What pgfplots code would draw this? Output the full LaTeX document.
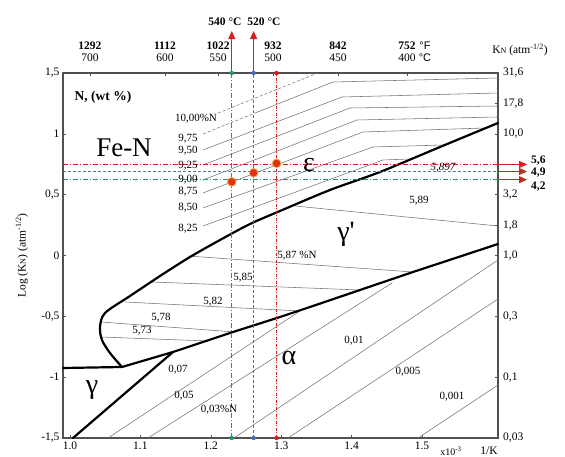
\documentclass[border=0pt]{standalone}
\usepackage{fontspec}
\setmainfont{Liberation Serif}
\newfontfamily\sansf{Liberation Sans}
\newfontfamily\serifraw{Liberation Serif}
\usepackage{pgfplots}
\pgfplotsset{compat=1.18}
\usetikzlibrary{arrows.meta}
\definecolor{cgreen}{RGB}{30,150,115}
\definecolor{cblue}{RGB}{70,110,185}
\definecolor{cred}{RGB}{215,30,30}
\definecolor{cdot}{RGB}{225,48,20}
\definecolor{chalo}{RGB}{245,165,60}
\definecolor{thinc}{RGB}{115,115,115}
\definecolor{framec}{RGB}{80,80,80}
\newcommand{\fs}[1]{\fontsize{#1}{#1}\selectfont}
\begin{document}
\begin{tikzpicture}[
  thinl/.style={thinc, line width=0.55pt},
  thick/.style={black, line width=2.2pt, line join=round, line cap=round},
  lab/.style={font=\fs{11}, inner sep=0pt},
  big/.style={font=\fs{28}, inner sep=0pt},
  arr/.style={cred, line width=0.9pt, -{Triangle[width=7pt,length=8pt]}}
]
\begin{axis}[
  name=ax, at={(0,0)}, anchor=south west,
  width=435pt, height=365pt, scale only axis,
  xmin=0.99006, xmax=1.60795, ymin=-1.5, ymax=1.5,
  clip=false,
  axis line style={framec, line width=1.1pt},
  xtick={1.0,1.1,1.2,1.3,1.4,1.5},
  xticklabels={1.0,1.1,1.2,1.3,1.4,1.5},
  ytick={-1.5,-1,-0.5,0,0.5,1,1.5},
  yticklabels={{-1,5},{-1},{-0,5},{0},{0,5},{1},{1,5}},
  xtick pos=bottom, ytick pos=left,
  tick align=inside, major tick length=3pt,
  tick style={framec, line width=0.6pt},
  ticklabel style={font=\fs{11.5}},
]
% ---------- epsilon iso-lines ----------
\addplot[thinl, dash pattern=on 3pt off 2pt] coordinates {(1.21023,1.1712) (1.35227,1.5)};
\addplot[thinl, dash pattern=on 3pt off 2pt] coordinates {(1.18892,0.9986) (1.26278,1.1712)};
\addplot[thinl] coordinates {(1.26278,1.1712) (1.37358,1.4260) (1.60795,1.4589)};
\addplot[thinl] coordinates {(1.18892,0.8671) (1.38636,1.3027) (1.60795,1.3356)};
\addplot[thinl] coordinates {(1.18892,0.7438) (1.39773,1.2123) (1.60795,1.2288)};
\addplot[thinl] coordinates {(1.18892,0.6205) (1.40767,1.1137) (1.60795,1.1384)};
\addplot[thinl] coordinates {(1.18892,0.5137) (1.41619,1.0151) (1.58949,1.0479)};
\addplot[thinl] coordinates {(1.18892,0.3904) (1.43040,0.8918) (1.53125,0.9082)};
\addplot[thinl] coordinates {(1.18892,0.2425) (1.44460,0.7849) (1.48153,0.7932)};
% ---------- gamma' iso-lines ----------
\addplot[thinl] coordinates {(1.31960,0.4068) (1.60795,0.2425)};
\addplot[thinl] coordinates {(1.16761,-0.0041) (1.48722,-0.1356)};
\addplot[thinl] coordinates {(1.11648,-0.2178) (1.41193,-0.2836)};
\addplot[thinl] coordinates {(1.07813,-0.3822) (1.32670,-0.4562)};
\addplot[thinl] coordinates {(1.04403,-0.5466) (1.23438,-0.6288)};
\addplot[thinl] coordinates {(1.04403,-0.6699) (1.19602,-0.7027)};
% ---------- alpha iso-lines ----------
\addplot[thinl] coordinates {(1.49432,-1.5) (1.60795,-1.0644)};
\addplot[thinl] coordinates {(1.30966,-1.5) (1.60795,-0.3575)};
\addplot[thinl] coordinates {(1.23295,-1.5) (1.60795,-0.0370)};
\addplot[thinl] coordinates {(1.11080,-1.5) (1.45739,-0.2260)};
\addplot[thinl] coordinates {(1.05398,-1.5) (1.33097,-0.4397)};
% ---------- phase boundaries ----------
\addplot[thick, smooth, tension=0.5] coordinates {
 (1.60795,1.0890) (1.52557,0.8918) (1.44034,0.6863) (1.36932,0.5384)
 (1.29830,0.3658) (1.25568,0.2589) (1.21307,0.1274) (1.17045,-0.0123)
 (1.12784,-0.1685) (1.08523,-0.3329) (1.04972,-0.4726) (1.04261,-0.5877)
 (1.04545,-0.6945) (1.05682,-0.8014) (1.07386,-0.9164)};
\addplot[thick] coordinates {(0.99006,-0.9247) (1.07386,-0.9164) (1.14631,-0.7932)
 (1.23153,-0.6288) (1.29403,-0.5137) (1.34091,-0.4233) (1.48722,-0.1356) (1.60795,0.0945)};
\addplot[thick] coordinates {(1.00426,-1.5) (1.14631,-0.7932)};
% ---------- guide lines ----------
\addplot[cgreen, line width=0.7pt, dash pattern=on 5pt off 2pt on 1pt off 2pt] coordinates {(1.22978,-1.5) (1.22978,1.5)};
\addplot[cblue, line width=0.7pt, dash pattern=on 3pt off 2pt] coordinates {(1.26079,-1.5) (1.26079,1.5)};
\addplot[cred, line width=0.7pt, dash pattern=on 3pt off 1.5pt on 1pt off 1.5pt] coordinates {(1.29341,-1.5) (1.29341,1.5)};
\addplot[cred, line width=0.7pt, dash pattern=on 5pt off 2pt on 1pt off 2pt] coordinates {(0.99006,0.7482) (1.60795,0.7482)};
\addplot[cblue!70!gray, line width=0.7pt, dash pattern=on 3pt off 2pt] coordinates {(0.99006,0.6902) (1.60795,0.6902)};
\addplot[cgreen, line width=0.7pt, dash pattern=on 5pt off 2pt on 1pt off 2pt] coordinates {(0.99006,0.6232) (1.60795,0.6232)};
\addplot[arr] coordinates {(1.60795,0.7482) (1.64915,0.7482)};
\addplot[arr] coordinates {(1.60795,0.6902) (1.64915,0.6902)};
\addplot[arr] coordinates {(1.60795,0.6232) (1.64915,0.6232)};
\addplot[arr] coordinates {(1.22978,1.5) (1.22978,1.845)};
\addplot[arr] coordinates {(1.26079,1.5) (1.26079,1.845)};
\addplot[only marks, mark=*, mark size=2pt, cgreen] coordinates {(1.22978,1.5) (1.22978,-1.5)};
\addplot[only marks, mark=*, mark size=2pt, cblue] coordinates {(1.26079,1.5) (1.26079,-1.5)};
\addplot[only marks, mark=*, mark size=2pt, cred] coordinates {(1.29341,1.5) (1.29341,-1.5)};
\addplot[only marks, mark=*, mark size=4.3pt, mark options={fill=cdot, draw=chalo, line width=0.8pt}] coordinates {(1.22978,0.605) (1.26079,0.680) (1.29341,0.757)};
% ---------- right axis ----------
\foreach \v/\t in {1.5/{31,6}, 1.25/{17,8}, 1/{10,0}, 0.5/{3,2}, 0.25/{1,8}, 0/{1,0}, -0.5/{0,3}, -1/{0,1}, -1.5/{0,03}} {
  \edef\temp{\noexpand\draw[framec, line width=0.6pt] (axis cs:1.60795,\v) -- ++(-3pt,0pt);
    \noexpand\node[anchor=west, font=\noexpand\fs{11.5}, inner sep=0pt] at (axis cs:1.6151,\v) {\t};}
  \temp
}
% ---------- top axis ----------
\foreach \x/\f/\c in {1.02841/1292/700, 1.13494/1112/600, 1.21023/1022/550, 1.28835/932/500, 1.38068/842/450, 1.47869/752/400} {
  \edef\temp{\noexpand\draw[framec, line width=0.6pt] (axis cs:\x,1.5) -- ++(0pt,-3pt);
  \noexpand\node[font=\noexpand\fs{11.5}\noexpand\bfseries, inner sep=0pt] at (axis cs:\x,1.722) {\f};
  \noexpand\node[font=\noexpand\fs{11.5}, inner sep=0pt] at (axis cs:\x,1.623) {\c};}
  \temp
}
\node[font=\sansf\fs{11}, inner sep=0pt] at (axis cs:1.50426,1.722) {°F};
\node[font=\sansf\fs{11}, inner sep=0pt] at (axis cs:1.50426,1.623) {°C};
\node[font=\fs{11.5}, inner sep=0pt] at (axis cs:1.6392,1.689) {K{\fs{8}N} (atm\textsuperscript{-1/2})};
\node[font=\fs{11.5}\bfseries, inner sep=0pt] at (axis cs:1.22017,1.9192) {540 °C};
\node[font=\fs{11.5}\bfseries, inner sep=0pt] at (axis cs:1.27557,1.9192) {520 °C};
\node[font=\fs{11.5}\bfseries, anchor=west, inner sep=0pt] at (axis cs:1.6548,0.7767) {5,6};
\node[font=\fs{11.5}\bfseries, anchor=west, inner sep=0pt] at (axis cs:1.6548,0.6781) {4,9};
\node[font=\fs{11.5}\bfseries, anchor=west, inner sep=0pt] at (axis cs:1.6548,0.5630) {4,2};
% ---------- axis labels ----------
\node[font=\fs{11.5}, rotate=90, inner sep=0pt] at (axis cs:0.93182,0) {Log (K{\fs{8}N}) (atm\textsuperscript{-1/2})};
\node[font=\fs{10}, inner sep=0pt] at (axis cs:1.54119,-1.6068) {x10\textsuperscript{-3}};
\node[font=\fs{11.5}, inner sep=0pt] at (axis cs:1.59517,-1.6068) {1/K};
% ---------- region labels ----------
\node[font=\fs{13.5}\bfseries, inner sep=0pt] at (axis cs:1.04688,1.3027) {N, (wt \%)};
\node[font=\fs{27}, inner sep=0pt] at (axis cs:1.07670,0.8836) {Fe-N};
\node[big] at (axis cs:1.33949,0.7438) {ε};
\node[big, font=\serifraw\fs{28}] at (axis cs:1.39205,0.1767) {γ'};
\node[big] at (axis cs:1.31108,-0.8425) {α};
\node[big] at (axis cs:1.03125,-1.1055) {γ};
% ---------- iso-line labels ----------
\node[lab] at (axis cs:1.17898,1.1219) {10,00\%N};
\node[lab] at (axis cs:1.16761,0.9575) {9,75};
\node[lab] at (axis cs:1.16761,0.8589) {9,50};
\node[lab] at (axis cs:1.16761,0.7356) {9,25};
\node[lab] at (axis cs:1.16761,0.6205) {9,00};
\node[lab] at (axis cs:1.16761,0.5219) {8,75};
\node[lab] at (axis cs:1.16761,0.3904) {8,50};
\node[lab] at (axis cs:1.16761,0.2178) {8,25};
\node[lab, font=\fs{11}\itshape] at (axis cs:1.52983,0.7192) {5,897};
\node[lab] at (axis cs:1.49574,0.4479) {5,89};
\node[lab] at (axis cs:1.32244,-0.0041) {5,87 \%N};
\node[lab] at (axis cs:1.24574,-0.1849) {5,85};
\node[lab] at (axis cs:1.20313,-0.3822) {5,82};
\node[lab] at (axis cs:1.12926,-0.5137) {5,78};
\node[lab] at (axis cs:1.10227,-0.6205) {5,73};
\node[lab] at (axis cs:1.15341,-0.9411) {0,07};
\node[lab] at (axis cs:1.16193,-1.1548) {0,05};
\node[lab] at (axis cs:1.21165,-1.2699) {0,03\%N};
\node[lab] at (axis cs:1.40341,-0.7027) {0,01};
\node[lab] at (axis cs:1.48011,-0.9575) {0,005};
\node[lab] at (axis cs:1.54261,-1.1630) {0,001};
\end{axis}
\pgfresetboundingbox
\path (-63pt,-19pt) rectangle (502pt,438pt);
\end{tikzpicture}
\end{document}
